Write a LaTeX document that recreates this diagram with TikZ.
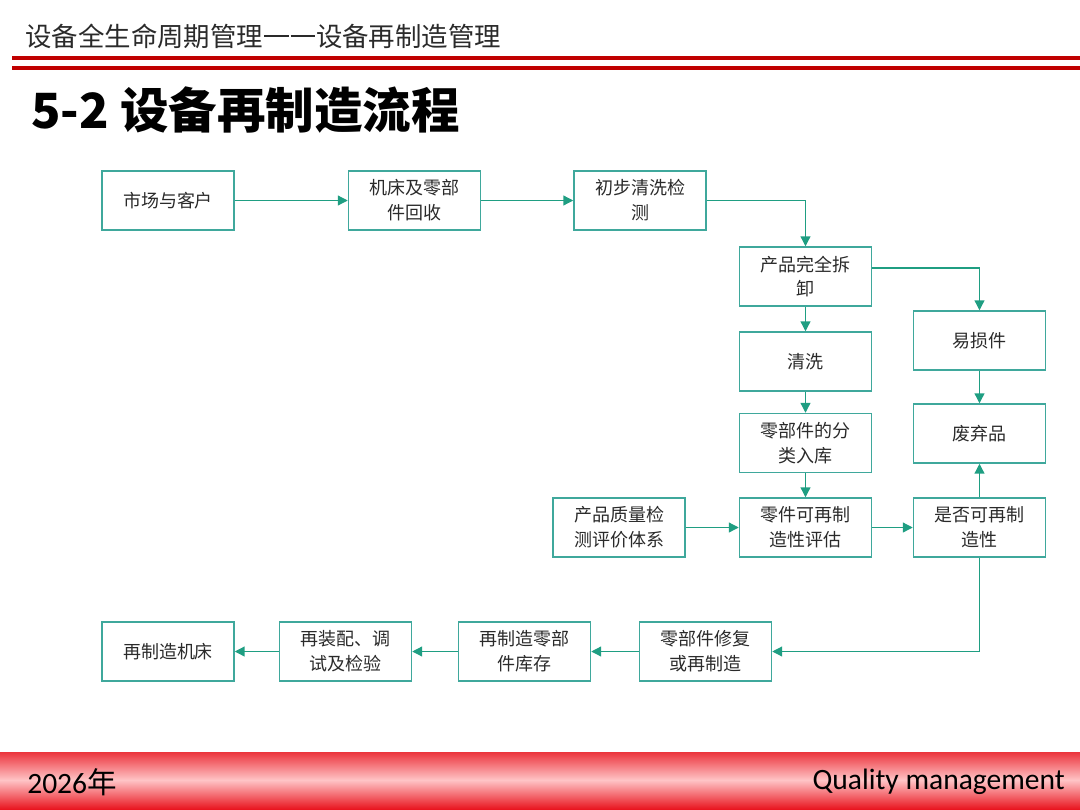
\documentclass[tikz,border=0pt]{standalone}
\usepackage{fontspec}
\setmainfont{Noto Sans CJK SC}
\newfontfamily\latinfont{Carlito}
\usetikzlibrary{arrows.meta}
\definecolor{boxc}{HTML}{3FA89C}
\definecolor{arrc}{HTML}{1F9E82}
\definecolor{txtc}{HTML}{2A2A2A}
\definecolor{hdred}{HTML}{C00000}
\definecolor{ftred}{HTML}{E8101A}
\definecolor{ftpink}{HTML}{FFC4C6}
\newcommand{\mydash}{\kern0.04em\rule[0.36em]{0.92em}{0.07em}\kern0.04em}
\begin{document}
\begin{tikzpicture}[x=0.025cm,y=-0.025cm,
  box/.style={draw=boxc, line width=1.05pt, minimum width=3.3cm, minimum height=1.475cm,
    inner sep=1pt, align=center, text=txtc, font=\fontsize{12.8}{17.7}\selectfont},
  arr/.style={draw=arrc, line width=0.9pt, -{Triangle[length=7pt,width=7pt]}}]
\useasboundingbox (0,0) rectangle (1080,810);
% header
\node[anchor=west, text=txtc, font=\fontsize{18.8}{20}\selectfont, inner sep=0pt] (hdr) at (25,36) {设备全生命周期管理\mydash\mydash 设备再制造管理};
\fill[hdred] (12,56) rectangle (1080,60);
\fill[hdred] (12,66) rectangle (1080,70);
\node[anchor=west, font=\fontsize{34.5}{38}\selectfont\bfseries, inner sep=0pt] (ttl) at (31,110) {5-2 设备再制造流程};
% footer
\shade[top color=ftred!85!white, bottom color=ftpink] (0,752) rectangle (1080,780);
\shade[top color=ftpink, bottom color=ftred] (0,780) rectangle (1080,810);
\node[anchor=west, inner sep=0pt, font=\fontsize{21}{22}\selectfont] (yr) at (27,782) {\latinfont 2026\normalfont 年};
\node[anchor=east, inner sep=0pt, font=\fontsize{21}{22}\selectfont\latinfont] (qm) at (1065,782) {Quality management};
% nodes
\node[box] (sc) at (168,200.5) {市场与客户};
\node[box] (jc) at (414.5,200.5) {机床及零部\\件回收};
\node[box] (cb) at (640,200.5) {初步清洗检\\测};
\node[box] (cz) at (805.5,276.5) {产品完全拆\\卸};
\node[box] (ys) at (979.5,340.5) {易损件};
\node[box] (qx) at (805.5,361.5) {清洗};
\node[box] (fq) at (979.5,433.5) {废弃品};
\node[box] (fl) at (805.5,443) {零部件的分\\类入库};
\node[box] (zl) at (619,527.5) {产品质量检\\测评价体系};
\node[box] (pg) at (805.5,527.5) {零件可再制\\造性评估};
\node[box] (sf) at (979.5,527.5) {是否可再制\\造性};
\node[box] (xf) at (705.5,651.5) {零部件修复\\或再制造};
\node[box] (kc) at (524.5,651.5) {再制造零部\\件库存};
\node[box] (zp) at (345.5,651.5) {再装配、调\\试及检验};
\node[box] (jcz) at (168,651.5) {再制造机床};
% connectors
\draw[arr] (sc) -- (jc);
\draw[arr] (jc) -- (cb);
\draw[arr] (cb.east) -| (cz.north);
\draw[arr] ([yshift=0.21cm]cz.east) -| (ys.north);
\draw[arr] (ys) -- (fq);
\draw[arr] (cz) -- (qx);
\draw[arr] (qx) -- (fl);
\draw[arr] (fl) -- (pg);
\draw[arr] (zl) -- (pg);
\draw[arr] (pg) -- (sf);
\draw[arr] (sf) -- (fq);
\draw[arr] (sf.south) |- (xf.east);
\draw[arr] (xf) -- (kc);
\draw[arr] (kc) -- (zp);
\draw[arr] (zp) -- (jcz);
\end{tikzpicture}
\end{document}
